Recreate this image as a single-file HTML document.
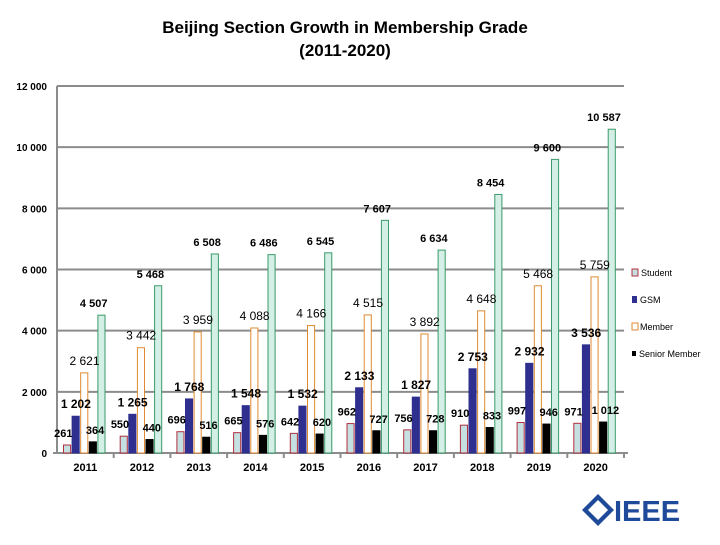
<!DOCTYPE html>
<html><head><meta charset="utf-8"><style>
body{margin:0;background:#fff;font-family:"Liberation Sans",sans-serif}
svg text{font-family:"Liberation Sans",sans-serif}
</style></head><body>
<svg width="720" height="540" viewBox="0 0 720 540">
<text x="345" y="33" text-anchor="middle" font-size="17" font-weight="bold">Beijing Section Growth in Membership Grade</text>
<text x="345" y="56" text-anchor="middle" font-size="17" font-weight="bold">(2011-2020)</text>
<g id="grid"></g><g id="bars"></g><g id="labels"></g>
<g font-size="9">
<rect x="632" y="269" width="6" height="7" fill="#c6dfe0" stroke="#b03040"/><text x="641" y="276">Student</text>
<rect x="632" y="296" width="5" height="7" fill="#2e2f8e"/><text x="640" y="303">GSM</text>
<rect x="632" y="323" width="6" height="7" fill="#fff" stroke="#e08a30"/><text x="640" y="330">Member</text>
<rect x="632" y="351" width="4" height="5" fill="#000"/><text x="639" y="357">Senior Member</text>
</g>
<g>
<polygon points="598,494 614,510 598,526 582,510" fill="#1f4a9a"/>
<polygon points="598,500 608,510 598,520 588,510" fill="#fff"/>
<text x="614" y="521" font-size="29" font-weight="bold" fill="#1f4a9a">IEEE</text>
</g>
</svg>
<script>
const years=['2011','2012','2013','2014','2015','2016','2017','2018','2019','2020'];
const student=[261,550,696,665,642,962,756,910,997,971];
const gsm=[1202,1265,1768,1548,1532,2133,1827,2753,2932,3536];
const member=[2621,3442,3959,4088,4166,4515,3892,4648,5468,5759];
const senior=[364,440,516,576,620,727,728,833,946,1012];
const total=[4507,5468,6508,6486,6545,7607,6634,8454,9600,10587];
const yTicks=[0,2000,4000,6000,8000,10000,12000];
const NS='http://www.w3.org/2000/svg';
const x0=57,x1=624,y0=453,yTop=86,ymax=12000;
const gw=(x1-x0)/years.length,bw=8.6;
const y=v=>y0-(v/ymax)*(y0-yTop);
function mk(tag,a,parent){const e=document.createElementNS(NS,tag);for(const k in a)e.setAttribute(k,a[k]);document.getElementById(parent).appendChild(e);return e;}
const fmt=v=>{const s=String(v);return s.length>3?s.slice(0,-3)+' '+s.slice(-3):s;};
yTicks.forEach(t=>{
 if(t>0){const l=mk('line',{x1:x0,x2:x1,y1:y(t),y2:y(t),stroke:'#8c8c8c','stroke-width':2},'grid');
 
 }
 const tx=mk('text',{x:47,y:y(t)+4,'text-anchor':'end','font-size':10,'font-weight':'bold'},'grid');tx.textContent=fmt(t);
 
 
});
let ax=mk('line',{x1:x0,x2:x0,y1:yTop,y2:y0,stroke:'#8c8c8c','stroke-width':2},'grid');


ax=mk('line',{x1:x0-4,x2:x1+4,y1:y0,y2:y0,stroke:'#8c8c8c','stroke-width':2},'grid');


years.forEach((yr,i)=>{
 const gx=x0+i*gw;
 const tk=mk('line',{x1:gx+gw,x2:gx+gw,y1:y0,y2:y0+5,stroke:'#8c8c8c','stroke-width':2},'grid');
 
 
 const t=mk('text',{x:gx+gw/2,y:y0+18,'text-anchor':'middle','font-size':11,'font-weight':'bold'},'grid');t.textContent=yr;
 
 
});
const series=[
 {d:student,n:'student',fill:'#c6dfe0',stroke:'#b03040',fs:11,fw:'bold',dx:-4},
 {d:gsm,n:'gsm',fill:'#2e2f8e',stroke:'#2e2f8e',fs:12,fw:'bold',dx:0},
 {d:member,n:'member',fill:'#fff',stroke:'#e08a30',fs:12,fw:'normal',dx:0},
 {d:senior,n:'senior-member',fill:'#000',stroke:'#000',fs:11,fw:'bold',dx:2},
 {d:total,n:'total',fill:'#d4f0e6',stroke:'#3a9a6a',fs:11,fw:'bold',dx:-8}];
series.forEach((s,si)=>{
 s.d.forEach((v,i)=>{
  const bx=x0+i*gw+6+si*bw;
  const r=mk('rect',{x:bx+0.5,y:y(v),width:bw-1.5,height:y0-y(v),fill:s.fill,stroke:s.stroke,'stroke-width':1},'bars');
  
  
  const t=mk('text',{x:bx+bw/2+s.dx,y:y(v)-8,'text-anchor':'middle','font-size':s.fs,'font-weight':s.fw},'labels');
  t.textContent=fmt(v);
  
  
 });
});
</script>
</body></html>
